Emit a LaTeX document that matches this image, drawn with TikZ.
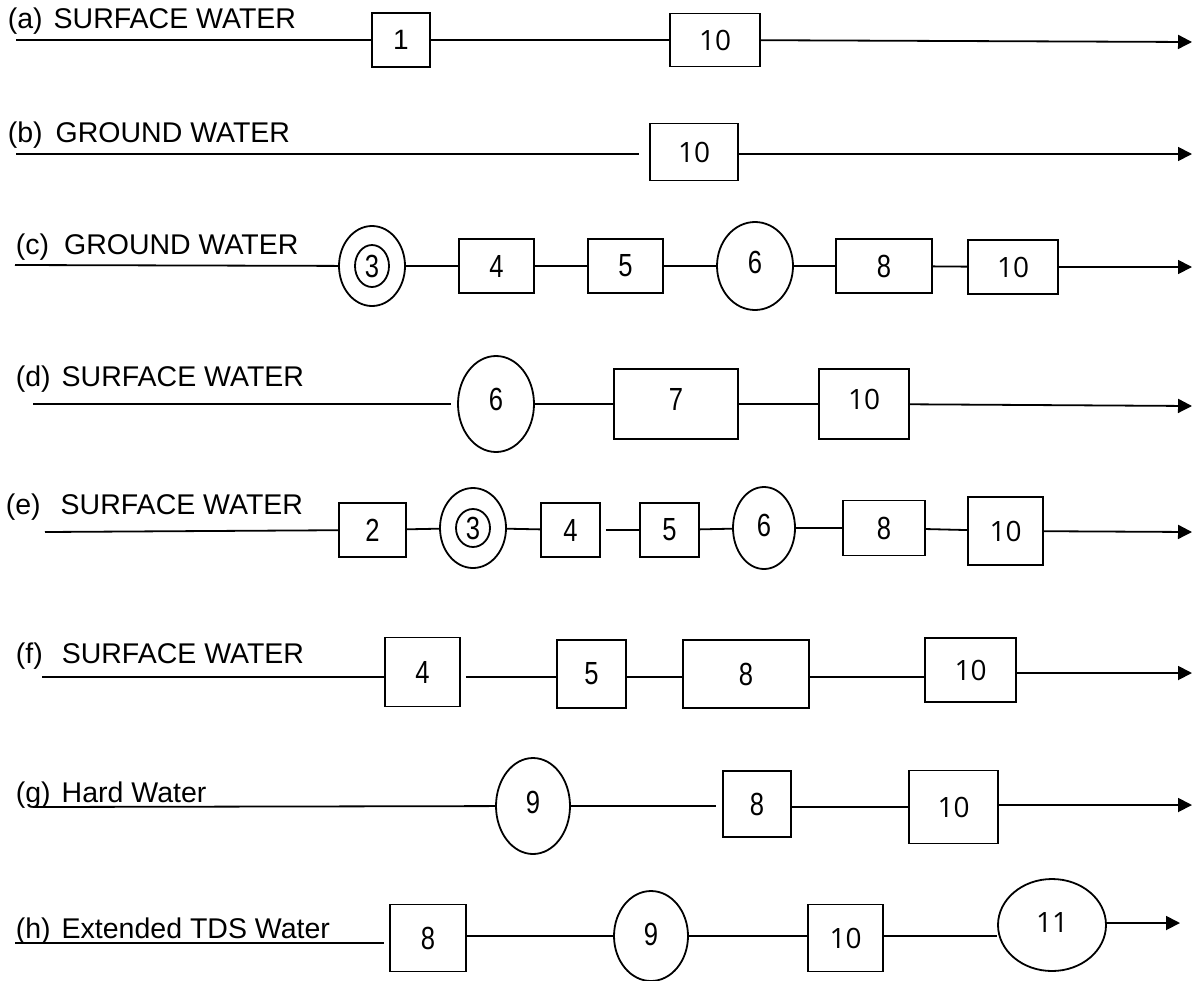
\documentclass[tikz,border=0pt]{standalone}
\usepackage{fontspec}
\setmainfont{Liberation Sans}
\newfontfamily\narrowdigits[FakeStretch=0.8]{Liberation Sans}
\newfontfamily\widedigits{Open Sans}
\usetikzlibrary{shapes.geometric}
\usetikzlibrary{arrows.meta}

\begin{document}
\begin{tikzpicture}[x=1pt,y=-1pt,line width=1.8pt,
  unit/.style 2 args={draw,rectangle,inner sep=0pt,minimum width=#1pt,minimum height=#2pt,font=\fontsize{32}{34}\selectfont\narrowdigits},
  tank/.style 2 args={draw,ellipse,inner sep=0pt,minimum width=#1pt,minimum height=#2pt,font=\fontsize{32}{34}\selectfont\narrowdigits},
  ten/.style={font=\fontsize{28}{30}\selectfont\widedigits},
  feed/.style={anchor=base west,inner sep=0pt,font=\fontsize{28.5}{30}\selectfont},
  flow/.style={-{Triangle[length=14pt,width=14pt]}}]
\useasboundingbox (0,0) rectangle (1193,980);
% (a)
\node[feed] (la) at (7,28) {(a)\hspace{11pt}SURFACE WATER};
\coordinate (sa) at (16,40);
\node[unit={58}{54},font=\fontsize{28}{30}\selectfont] (a1) at (401,40) {1};
\node[unit={90}{53},ten] (a10) at (715,40) {10};
\coordinate (ea) at (1192,42);
\draw (sa) -- (a1) -- (a10);
\draw[flow] (a10) -- (ea);
% (b)
\node[feed] (lb) at (7,142) {(b)\hspace{13pt}GROUND WATER};
\coordinate (sb) at (16,154);
\node[unit={88}{57},ten] (b10) at (694,152) {10};
\coordinate (eb) at (1192,154);
\draw[shorten >=10pt] (sb) -- (sb -| b10.west);
\draw[flow] (b10.east |- eb) -- (eb);
% (c)
\node[feed] (lc) at (15,254) {(c)\hspace{15pt}GROUND WATER};
\coordinate (sc) at (15,265);
\node[tank={66}{80}] (c3) at (372,266) {};
\node[tank={34}{42}] (c3in) at (c3) {3};
\node[unit={75}{54}] (c4) at (496.5,266) {4};
\node[unit={75}{54}] (c5) at (625.5,266) {5};
\node[tank={76}{88}] (c6) at (755,266) {\raisebox{8pt}{6}};
\node[unit={96}{54}] (c8) at (884,266) {8};
\node[unit={90}{54},ten] (c10) at (1013,267) {10};
\coordinate (ec) at (1192,267);
\draw (sc) -- (c3) -- (c4) -- (c5) -- (c6) -- (c8) -- (c10);
\draw[flow] (c10) -- (ec);
% (d)
\node[feed] (ld) at (15,386) {(d)\hspace{11pt}SURFACE WATER};
\coordinate (sd) at (33,404);
\node[tank={76}{96}] (d6) at (496,404) {\raisebox{10pt}{6}};
\node[unit={124}{70}] (d7) at (676,404) {\raisebox{10pt}{7}};
\node[unit={90}{70},ten] (d10) at (864,404) {\raisebox{10pt}{10}};
\coordinate (ed) at (1192,406);
\draw[shorten >=6pt] (sd) -- (d6);
\draw (d6) -- (d7) -- (d10);
\draw[flow] (d10) -- (ed);
% (e)
\node[feed] (le) at (5,514) {(e)\hspace{20pt}SURFACE WATER};
\coordinate (se) at (45,532);
\node[unit={67}{54}] (e2) at (372.5,530) {2};
\node[tank={66}{80}] (e3) at (473,528) {};
\node[tank={34}{38}] (e3in) at (e3) {3};
\node[unit={59}{54}] (e4) at (570.5,530) {4};
\node[unit={59}{54}] (e5) at (669.5,530) {5};
\node[tank={62}{82}] (e6) at (764,528) {\raisebox{6pt}{6}};
\node[unit={82}{55}] (e8) at (884,528) {8};
\node[unit={75}{68},ten] (e10) at (1005.5,531) {10};
\coordinate (ee) at (1192,532);
\draw (se) -- (e2) -- (e3) -- (e4);
\draw[shorten <=5pt] (e4) -- (e5);
\draw (e5) -- (e6) -- (e8) -- (e10);
\draw[flow] (e10) -- (ee);
% (f)
\node[feed] (lf) at (15,663) {(f)\hspace{19pt}SURFACE WATER};
\coordinate (sf) at (42,677);
\node[unit={75}{69}] (f4) at (422.5,672) {4};
\node[unit={69}{68}] (f5) at (591.5,674) {5};
\node[unit={126}{68}] (f8) at (746,674) {8};
\node[unit={91}{64},ten] (f10) at (970.5,670) {10};
\coordinate (ef) at (1192,673);
\draw (sf) -- (sf -| f4.west);
\draw[shorten <=5pt] (f4.east |- sf) -- (sf -| f5.west);
\draw (f5.east |- sf) -- (sf -| f8.west);
\draw (f8.east |- sf) -- (sf -| f10.west);
\draw[flow] (f10.east |- ef) -- (ef);
% (g)
\node[feed] (lg) at (15,802) {(g)\hspace{11pt}Hard Water};
\coordinate (sg) at (33,807);
\node[tank={74}{96}] (g9) at (533,806) {\raisebox{8pt}{9}};
\node[unit={68}{66}] (g8) at (757,804) {8};
\node[unit={89}{73},ten] (g10) at (953.5,807) {10};
\coordinate (eg) at (1192,805);
\draw (sg) -- (g9);
\draw[shorten >=6pt] (g9) -- (g9 -| g8.west);
\draw (g8.east |- sg) -- (sg -| g10.west);
\draw[flow] (g10.east |- eg) -- (eg);
% (h)
\node[feed] (lh) at (15,938) {(h)\hspace{11pt}Extended TDS Water};
\coordinate (sh) at (15,943);
\node[unit={76}{67}] (h8) at (428,938) {8};
\node[tank={74}{90}] (h9) at (651,936) {\raisebox{4pt}{9}};
\node[unit={75}{67},ten] (h10) at (845.5,938) {10};
\node[tank={108}{92},ten] (h11) at (1052,925) {\raisebox{6pt}{11}};
\coordinate (eh) at (1180,923);
\draw[shorten >=5pt] (sh) -- (sh -| h8.west);
\draw (h8.east |- h9) -- (h9) -- (h9 -| h10.west);
\draw (h10.east |- h9) -- (h9 -| h11.west);
\draw[flow] (h11.east |- eh) -- (eh);
\end{tikzpicture}
\end{document}
